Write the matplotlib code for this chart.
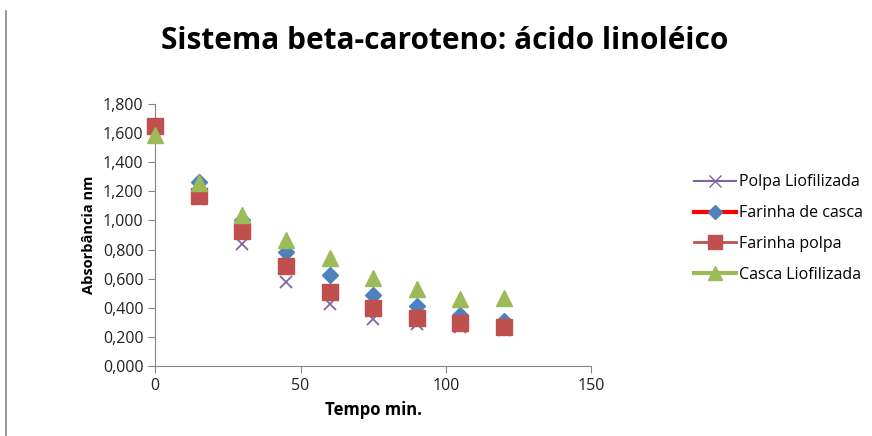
import matplotlib
matplotlib.use("Agg")
import matplotlib.pyplot as plt
from matplotlib.lines import Line2D
from matplotlib.ticker import FuncFormatter

plt.rcParams['font.family'] = ['Open Sans', 'DejaVu Sans']

tempo = [0, 15, 30, 45, 60, 75, 90, 105, 120]
polpa_liof = [1.64, 1.15, 0.84, 0.575, 0.425, 0.32, 0.285, 0.27, 0.25]
farinha_casca = [1.63, 1.265, 1.0, 0.785, 0.625, 0.49, 0.415, 0.35, 0.31]
farinha_polpa = [1.65, 1.165, 0.93, 0.69, 0.505, 0.395, 0.33, 0.295, 0.27]
casca_liof = [1.59, 1.26, 1.04, 0.865, 0.74, 0.605, 0.53, 0.46, 0.465]

yticks = [0.0, 0.2, 0.4, 0.6, 0.8, 1.0, 1.2, 1.4, 1.6, 1.8]
xticks = [0, 50, 100, 150]

fig = plt.figure(figsize=(8.72, 4.36), dpi=100)
ax = fig.add_axes([0.178, 0.1606, 0.5, 0.601])

ax.plot(tempo, polpa_liof, ls='none', marker='x', ms=9, mew=1.3, color='#8064A2', zorder=3, clip_on=False)
ax.plot(tempo, farinha_casca, ls='none', marker='D', ms=8, color='#4F81BD', zorder=4, clip_on=False)
ax.plot(tempo, farinha_polpa, ls='none', marker='s', ms=11, color='#C0504D', zorder=5, clip_on=False)
ax.plot(tempo, casca_liof, ls='none', marker='^', ms=12, color='#9BBB59', zorder=6, clip_on=False)

ax.set_xlim(0, 150)
ax.set_ylim(0, 1.8)
ax.set_xticks(xticks)
ax.set_yticks(yticks)
ax.yaxis.set_major_formatter(FuncFormatter(lambda v, p: f"{v:.3f}".replace('.', ',')))
for s in ['top', 'right']:
    ax.spines[s].set_visible(False)
for s in ['left', 'bottom']:
    ax.spines[s].set_color('#868686')
ax.tick_params(colors='#868686', labelcolor='#222222', labelsize=11.5, length=5)
ax.patch.set_alpha(0)

ax.set_xlabel('Tempo min.', fontsize=12, fontweight='bold', labelpad=5)
ax.set_ylabel('Absorbância nm', fontsize=10.5, fontweight='bold', labelpad=5)

fig.suptitle('Sistema beta-caroteno: ácido linoléico', x=0.51, y=0.94,
             fontsize=21.5, fontweight='bold')

handles = [
    Line2D([], [], color='#8064A2', lw=1.5, marker='x', ms=8, mew=1),
    Line2D([], [], color='#FF0000', lw=3, marker='D', ms=7, mfc='#4F81BD', mec='#4F81BD'),
    Line2D([], [], color='#C0504D', lw=2, marker='s', ms=10, mfc='#C0504D', mec='#C0504D'),
    Line2D([], [], color='#9BBB59', lw=3, marker='^', ms=10, mfc='#9BBB59', mec='#9BBB59'),
]
labels = ['Polpa Liofilizada', 'Farinha de casca', 'Farinha polpa', 'Casca Liofilizada']
fig.legend(handles, labels, loc='upper left', bbox_to_anchor=(0.789, 0.615),
           frameon=False, fontsize=11.5, handlelength=2.6, handletextpad=0.2,
           labelspacing=0.93, borderaxespad=0)

fig.add_artist(Line2D([0.007, 0.007], [0.0, 0.975], color='#868686', lw=1.2,
                      transform=fig.transFigure))

fig.savefig('out.png', dpi=100)
